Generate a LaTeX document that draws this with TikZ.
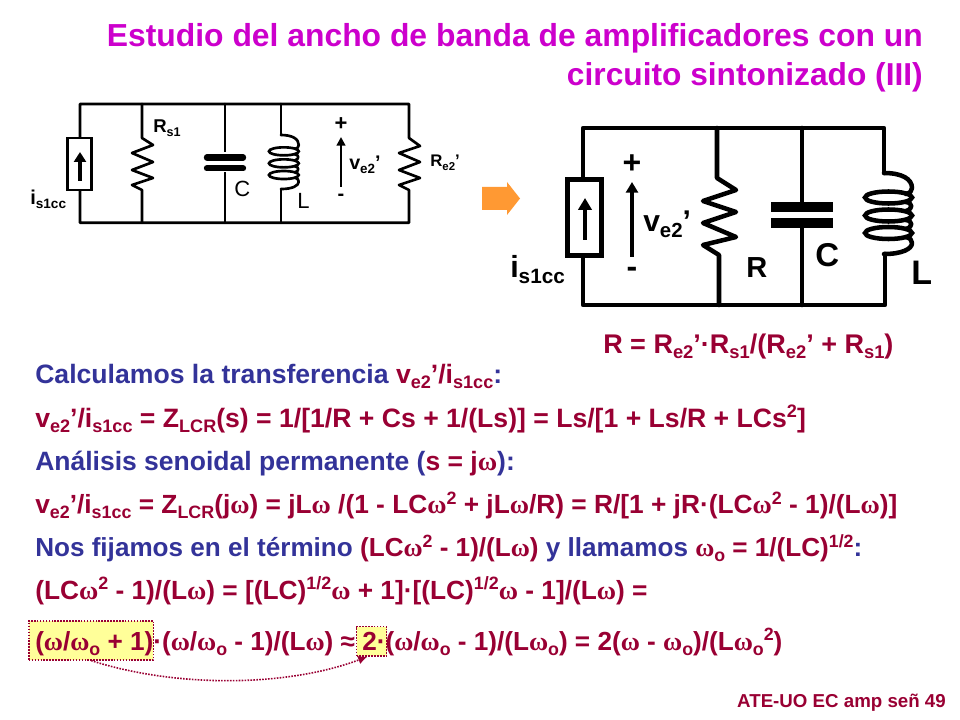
\documentclass[tikz,border=0pt]{standalone}
\usepackage{fontspec}
\setmainfont{Liberation Sans}[BoldFont={Liberation Sans Bold}]
\newfontfamily\serifw{Liberation Serif}
\usetikzlibrary{arrows.meta}
\definecolor{dred}{HTML}{990033}
\definecolor{dblue}{HTML}{333399}
\definecolor{mag}{HTML}{CC00CC}
\definecolor{orng}{HTML}{FF9933}
\definecolor{hlyel}{HTML}{FFFF99}
\newcommand{\dn}[1]{\raisebox{-.2em}{\scalebox{.68}{#1}}}
\newcommand{\upp}[1]{\raisebox{.36em}{\scalebox{.68}{#1}}}
\newcommand{\wm}{{\serifw\bfseries ω}}
\newcommand{\px}[1]{\fontsize{\dimexpr #1pt*3/4\relax}{\dimexpr #1pt*9/10\relax}\selectfont\bfseries}
\newlength{\wl}
\newcommand{\coil}[4]{% x y scale xscale
\begin{scope}[shift={(#1,#2)},xscale=#3*#4,yscale=#3]
\draw[wire] (0,0) .. controls (18,0) and (28,6) .. (28,15) .. controls (28,18) and (26,20) .. (22,21);
\draw[wire] (22,29) .. controls (29,30) and (29,36) .. (22,38);
\draw[wire] (22,47) .. controls (29,48) and (29,54) .. (22,56);
\draw[wire] (22,64) .. controls (26,65) and (28,67) .. (28,70) .. controls (28,76) and (18,81) .. (0,81);
\draw[line width=\wl] (4.5,24.5) ellipse [x radius=23.5,y radius=6];
\draw[line width=\wl] (4.5,42.5) ellipse [x radius=23.5,y radius=6];
\draw[line width=\wl] (4.5,60) ellipse [x radius=23.5,y radius=6];
\end{scope}}
\tikzset{
 txt/.style={inner sep=0pt,anchor=base west},
 txe/.style={inner sep=0pt,anchor=base east},
 ctr/.style={inner sep=0pt,anchor=center},
 wire/.style={line width=\wl,line cap=round,line join=round},
 hl/.style={draw=dred,fill=hlyel,densely dotted,line width=1.2pt,inner sep=0pt,minimum width=#1,anchor=north west},
}
\begin{document}
\begin{tikzpicture}[x=0.75pt,y=-0.75pt]
\useasboundingbox (0,0) rectangle (960,720);
% highlight boxes
\node[hl=93.5pt,minimum height=29.25pt] (box1) at (28,620) {};
\node[hl=22.5pt,minimum height=22pt] (box2) at (355.7,625.7) {};
\draw[dred,densely dotted,line width=1.2pt,-{Latex[length=7pt,width=6.5pt,fill=dred]}] (box1.south) .. controls (180,689) and (290,686) .. ([xshift=-3pt]box2.south);
% title
\node[txe,mag] (t1) at (923,47) {\px{31.85}Estudio del ancho de banda de amplificadores con un};
\node[txe,mag] (t2) at (923,86) {\px{31.7}circuito sintonizado (III)};
% left circuit
\setlength{\wl}{2pt}
\draw[wire] (80,137) -- (80,104) -- (409,104) -- (409,138)
 -- (420,146) -- (399,153) -- (420,162) -- (399,170) -- (420,178) -- (399,185) -- (409,190) -- (409,222.7) -- (80,222.7) -- (80,191);
\node[draw,line width=\wl,minimum width=18pt,minimum height=39pt,inner sep=0pt,fill=white] (srcA) at (79.5,164) {};
\draw[line width=2.4pt,-{Triangle[length=7.5pt,width=9pt]}] (80,181) -- (80,152);
\draw[wire] (142,104) -- (142,138) -- (153,145) -- (132,153) -- (153,162) -- (132,170) -- (153,178) -- (132,185) -- (142,190) -- (142,222.7);
\draw[wire] (225,104) -- (225,222.7);
\fill[white] (204,152) rectangle (246,172);
\draw[line width=4.8pt,line cap=round] (207,157.5) -- (243,157.5);
\draw[line width=4.8pt,line cap=round] (207,168.3) -- (243,168.3);
\draw[wire] (281,104) -- (281,135);
\draw[wire] (281,189) -- (281,222.7);
\coil{281}{135}{0.667}{0.95}
\draw[line width=2pt,-{Triangle[length=6.5pt,width=6.5pt]}] (341,187) -- (341,137);
\node[ctr] (pA) at (341,124.5) {\px{22}+};
\node[ctr] (mA) at (341,197) {\px{20}-};
\node[txt] (rs1A) at (153,133) {\px{18.5}R\dn{s1}};
\node[txt] (cA) at (234,197) {\fontsize{16.5pt}{18pt}\selectfont C};
\node[txt] (lA) at (297,209) {\fontsize{16.5pt}{18pt}\selectfont L};
\node[txt] (isA) at (30,205) {\px{20}i\dn{s1cc}};
\node[txt] (vA) at (349,170) {\px{19.7}v\dn{e2}’};
\node[txt] (reA) at (430,167) {\px{16.8}R\dn{e2}’};
% arrow
\fill[orng] (482,187) -- (507,187) -- (507,182) -- (520,198.5) -- (507,215) -- (507,210) -- (482,210) -- cycle;
% right circuit
\setlength{\wl}{3.4pt}
\draw[wire] (583,178) -- (583,128) -- (884,128) -- (884,173);
\draw[wire] (885,254) -- (885,305) -- (583,305) -- (583,257);
\node[draw,line width=\wl,minimum width=25.5pt,minimum height=57pt,inner sep=0pt,fill=white] (srcB) at (584.5,217.5) {};
\draw[line width=3.2pt,-{Triangle[length=9pt,width=10pt]}] (585,240) -- (585,198);
\draw[wire] (717,128) -- (717,178) -- (736,190) -- (703,201) -- (736,212) -- (703,223) -- (736,237) -- (703,245) -- (719,255) -- (719,305);
\draw[wire] (802,128) -- (802,207);
\draw[wire] (802,223) -- (802,305);
\fill (771,202) rectangle (833,212);
\fill (771,218) rectangle (833,228);
\coil{884}{173}{1}{1}
\draw[line width=3pt,-{Triangle[length=8pt,width=9pt]}] (632,257) -- (632,182);
\node[ctr] (pB) at (632,164) {\px{32}+};
\node[ctr] (mB) at (632,272) {\px{32}-};
\node[txt] (vB) at (643,232) {\px{30}v\dn{e2}’};
\node[txt] (isB) at (510,277) {\px{30.5}i\dn{s1cc}};
\node[txt] (rB) at (746,277) {\px{29}R};
\node[txt] (cB) at (815,267) {\px{33}C};
\node[txt] (lB) at (911,285) {\px{34}L};
\node[txt,dred] (eqR) at (603,353) {\px{27}R = R\dn{e2}’·R\dn{s1}/(R\dn{e2}’ + R\dn{s1})};
% text lines
\node[txt] (l1) at (35,383) {\px{26.6}\color{dblue}Calculamos la transferencia \color{dred}v\dn{e2}’/i\dn{s1cc}\color{dblue}:};
\node[txt,dred] (l2) at (35,427) {\px{26.6}v\dn{e2}’/i\dn{s1cc} = Z\dn{LCR}(s) = 1/[1/R + Cs + 1/(Ls)] = Ls/[1 + Ls/R + LCs\upp{2}]};
\node[txt] (l3) at (35,470) {\px{26.5}\color{dblue}Análisis senoidal permanente (\color{dred}s = j\wm\color{dblue}):};
\node[txt,dred] (l4) at (35,513.5) {\px{26.3}v\dn{e2}’/i\dn{s1cc} = Z\dn{LCR}(j\wm) = jL\wm{} /(1 - LC\wm\upp{2} + jL\wm/R) = R/[1 + jR·(LC\wm\upp{2} - 1)/(L\wm)]};
\node[txt] (l5) at (35,556.5) {\px{26.1}\color{dblue}Nos fijamos en el término \color{dred}(LC\wm\upp{2} - 1)/(L\wm) \color{dblue}y llamamos \color{dred}\wm\dn{o} = 1/(LC)\upp{1/2}\color{dblue}:};
\node[txt,dred] (l6) at (35,599) {\px{26.3}(LC\wm\upp{2} - 1)/(L\wm) = [(LC)\upp{1/2}\wm{} + 1]·[(LC)\upp{1/2}\wm{} - 1]/(L\wm) =};
\node[txt,dred] (l7) at (35,650) {\px{26.15}(\wm/\wm\dn{o} + 1)·(\wm/\wm\dn{o} - 1)/(L\wm) ≈ 2·(\wm/\wm\dn{o} - 1)/(L\wm\dn{o}) = 2(\wm{} - \wm\dn{o})/(L\wm\dn{o}\upp{2})};
\node[txe,dred] (foot) at (946,707) {\px{18.7}ATE-UO EC amp señ 49};
\end{tikzpicture}
\end{document}
